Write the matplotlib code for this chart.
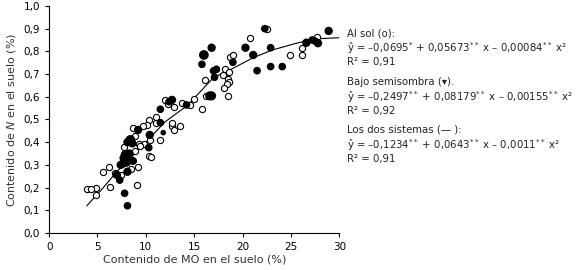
import numpy as np
import matplotlib.pyplot as plt

# Al sol (circulos abiertos)
sol_x = [27.7, 20.8, 22.5, 26.1, 26.1, 24.9, 18.7, 19.0, 18.2, 18.6, 18.0, 18.5, 18.6, 18.4,
         18.1, 18.5, 16.1, 16.2, 15.8, 15.0, 14.6, 13.7, 12.9, 12.0, 12.3, 12.7, 13.5, 12.7,
         12.9, 11.1, 11.0, 10.3, 10.1, 9.7, 11.5, 10.4, 9.8, 9.3, 8.7, 8.9, 9.4, 10.3, 10.5,
         8.9, 7.7, 9.2, 6.2, 5.6, 6.3, 9.1, 4.8, 4.8, 3.9, 4.3, 6.8, 7.4, 8.5]
sol_y = [0.865, 0.857, 0.900, 0.816, 0.784, 0.784, 0.774, 0.784, 0.721, 0.710, 0.695, 0.680,
         0.665, 0.655, 0.637, 0.604, 0.674, 0.604, 0.545, 0.590, 0.564, 0.574, 0.556, 0.586,
         0.568, 0.471, 0.471, 0.486, 0.454, 0.512, 0.483, 0.498, 0.476, 0.470, 0.410, 0.410,
         0.390, 0.390, 0.461, 0.426, 0.383, 0.341, 0.333, 0.360, 0.380, 0.292, 0.292, 0.270,
         0.204, 0.211, 0.197, 0.167, 0.195, 0.195, 0.265, 0.255, 0.280]

# Bajo semisombra (simbolos rellenos)
som_x = [28.9, 22.3, 16.8, 16.0, 15.8, 20.3, 21.1, 19.0, 22.9, 21.5, 22.9, 24.1, 17.0, 17.3,
         17.1, 16.8, 16.6, 26.6, 27.2, 27.8, 27.5, 14.2, 12.7, 12.4, 11.5, 11.5, 11.8, 10.4,
         10.3, 9.2, 8.4, 8.1, 8.6, 7.9, 8.1, 8.3, 7.6, 7.4, 8.5, 8.7, 8.1, 7.0, 7.3, 7.8, 8.1,
         7.7, 8.0]
som_y = [0.890, 0.900, 0.816, 0.784, 0.743, 0.816, 0.784, 0.752, 0.816, 0.715, 0.733, 0.733,
         0.714, 0.721, 0.686, 0.604, 0.604, 0.838, 0.850, 0.836, 0.845, 0.564, 0.586, 0.578,
         0.545, 0.486, 0.442, 0.432, 0.376, 0.454, 0.410, 0.400, 0.395, 0.344, 0.335, 0.350,
         0.305, 0.300, 0.320, 0.317, 0.270, 0.256, 0.233, 0.175, 0.120, 0.330, 0.310]
som_s = [5, 4.5, 5, 6, 4.5, 5, 5, 4.5, 4.5, 4.5, 4.5, 4.5, 4.5, 4.5, 4.5, 5.5, 5.5, 5, 4.5, 5,
         4.5, 4.5, 5, 4.5, 4.5, 4.5, 3, 5, 4.5, 5, 6, 5, 5, 6, 6, 5, 5, 5, 5, 4.5, 5, 5, 4.5,
         4.5, 4.5, 5, 5]

# Los dos sistemas (curva ajustada)
fit_x = [3.9, 5.5, 7.0, 8.5, 10.0, 12.0, 14.3, 17.0, 19.0, 21.0, 23.0, 25.5, 27.5, 30.0]
fit_y = [0.120, 0.195, 0.270, 0.335, 0.400, 0.490, 0.562, 0.685, 0.725, 0.770, 0.805, 0.835, 0.855, 0.860]

fig = plt.figure(figsize=(5.78, 2.70), dpi=100)
ax = fig.add_axes([0.085, 0.137, 0.502, 0.841])

ax.plot(fit_x, fit_y, color='black', lw=0.8, zorder=1)
ax.scatter(sol_x, sol_y, s=20, facecolors='white', edgecolors='black', linewidths=0.8, zorder=2)
ax.scatter(som_x, som_y, s=np.array(som_s) ** 2, color='black', marker='o', zorder=3)

ax.set_xlim(0, 30)
ax.set_ylim(0, 1.0)
ax.set_xticks(range(0, 31, 5))
ax.set_yticks(np.arange(0, 1.01, 0.1))
ax.set_yticklabels([f'{v:.1f}'.replace('.', ',') for v in np.arange(0, 1.01, 0.1)])
ax.spines['top'].set_visible(False)
ax.spines['right'].set_visible(False)
ax.tick_params(labelsize=7.5, length=3, width=0.8)
ax.set_xlabel('Contenido de MO en el suelo (%)', fontsize=8, color='#333333', labelpad=2)
ax.set_ylabel('Contenido de $\\mathit{N}$ en el suelo (%)', fontsize=8, color='#333333', labelpad=4)

tx = 347 / 578
lines = [
    (33, 'Al sol (o):'),
    (48, 'ŷ = –0,0695$^{*}$ + 0,05673$^{**}$ x – 0,00084$^{**}$ x²'),
    (62, 'R² = 0,91'),
    (82, 'Bajo semisombra (▾).'),
    (97, 'ŷ = –0,2497$^{**}$ + 0,08179$^{**}$ x – 0,00155$^{**}$ x²'),
    (111, 'R² = 0,92'),
    (130, 'Los dos sistemas (— ):'),
    (145, 'ŷ = –0,1234$^{**}$ + 0,0643$^{**}$ x – 0,0011$^{**}$ x²'),
    (159, 'R² = 0,91'),
]
for py, s in lines:
    fig.text(tx, 1 - py / 270, s, fontsize=7.3, va='center', ha='left', color='#222222')

fig.savefig('out.png', dpi=100)
